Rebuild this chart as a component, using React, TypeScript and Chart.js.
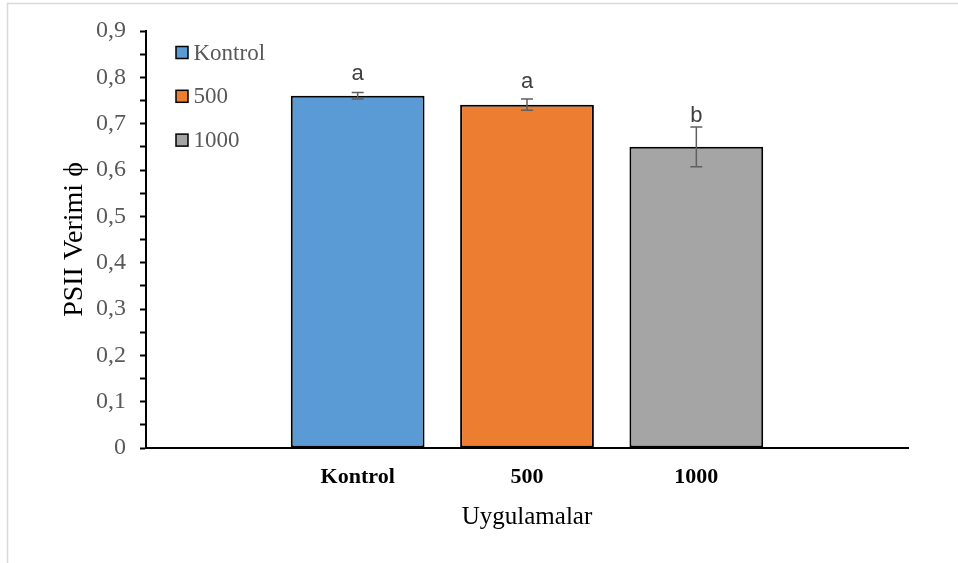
import React, { useEffect, useRef } from 'react';
import { Chart, registerables } from 'chart.js';

Chart.register(...registerables);

// ---- data ----
const categories = ['Kontrol', '500', '1000'];
const values = [0.76, 0.741, 0.65];
const errors = [0.007, 0.012, 0.043];
const letters = ['a', 'a', 'b'];
const letterLevels = [0.795, 0.776, 0.703];
const colors = ['#5B9BD5', '#ED7D31', '#A5A5A5'];
const yTickLabels = ['0', '0,1', '0,2', '0,3', '0,4', '0,5', '0,6', '0,7', '0,8', '0,9'];
const yMax = 0.9;
const yMinorStep = 0.05;
const yTitle = 'PSII Verimi \u03D5';
const xTitle = 'Uygulamalar';

const SERIF = "'Liberation Serif', 'Times New Roman', serif";
const SANS = "'Liberation Sans', Arial, sans-serif";

const framePlugin = {
  id: 'frame',
  beforeDraw(chart: any) {
    const ctx = chart.ctx;
    ctx.save();
    ctx.fillStyle = '#ffffff';
    ctx.fillRect(0, 0, chart.width, chart.height);
    ctx.strokeStyle = '#d9d9d9';
    ctx.lineWidth = 1.5;
    ctx.beginPath();
    ctx.moveTo(7.5, chart.height);
    ctx.lineTo(7.5, 3.5);
    ctx.lineTo(chart.width, 3.5);
    ctx.stroke();
    ctx.restore();
  },
};

const errorPlugin = {
  id: 'errorBarsLetters',
  afterDatasetsDraw(chart: any) {
    const ctx = chart.ctx;
    const meta = chart.getDatasetMeta(0);
    const ys = chart.scales.y;
    ctx.save();
    meta.data.forEach((el: any, i: number) => {
      const x = el.x;
      const yTop = ys.getPixelForValue(values[i] + errors[i]);
      const yBot = ys.getPixelForValue(values[i] - errors[i]);
      ctx.strokeStyle = '#5f5f5f';
      ctx.lineWidth = 1.5;
      ctx.beginPath();
      ctx.moveTo(x, yTop);
      ctx.lineTo(x, yBot);
      ctx.moveTo(x - 6, yTop);
      ctx.lineTo(x + 6, yTop);
      ctx.moveTo(x - 6, yBot);
      ctx.lineTo(x + 6, yBot);
      ctx.stroke();
      ctx.fillStyle = '#404040';
      ctx.font = `22px ${SANS}`;
      ctx.textAlign = 'center';
      ctx.textBaseline = 'alphabetic';
      ctx.fillText(letters[i], x, ys.getPixelForValue(letterLevels[i]));
    });
    ctx.restore();
  },
};

const legendPlugin = {
  id: 'insideLegend',
  afterDraw(chart: any) {
    const ctx = chart.ctx;
    const area = chart.chartArea;
    ctx.save();
    ctx.font = `23px ${SERIF}`;
    ctx.textBaseline = 'middle';
    ctx.textAlign = 'left';
    categories.forEach((c, i) => {
      const cy = area.top + 21.5 + i * 43.8;
      const sx = area.left + 30;
      ctx.fillStyle = colors[i];
      ctx.fillRect(sx, cy - 6, 12, 12);
      ctx.strokeStyle = '#000';
      ctx.lineWidth = 1.5;
      ctx.strokeRect(sx, cy - 6, 12, 12);
      ctx.fillStyle = '#595959';
      ctx.fillText(c, sx + 17.5, cy + 1);
    });
    ctx.restore();
  },
};

export default function App() {
  const ref = useRef<HTMLCanvasElement | null>(null);

  useEffect(() => {
    if (!ref.current) return;
    const chart = new Chart(ref.current, {
      type: 'bar',
      data: {
        datasets: [
          {
            data: values.map((v, i) => ({ x: i + 1, y: v })) as any,
            backgroundColor: colors,
            borderColor: '#000',
            borderWidth: 2,
            borderSkipped: false,
            barPercentage: 0.79,
            categoryPercentage: 1,
          },
        ],
      },
      options: {
        responsive: false,
        animation: false,
        layout: { padding: { left: 0, top: 31, right: 50, bottom: 0 } },
        plugins: {
          legend: { display: false },
          tooltip: { enabled: false },
        },
        scales: {
          x: {
            type: 'linear',
            offset: false,
            min: -0.25,
            max: categories.length + 1.25,
            afterBuildTicks: (scale: any) => {
              scale.ticks = categories.map((_, i) => ({ value: i + 1 }));
            },
            afterFit: (scale: any) => {
              scale.height = 115;
            },
            grid: { display: false, drawTicks: false },
            border: { display: true, color: '#000', width: 2 },
            ticks: {
              autoSkip: false,
              maxRotation: 0,
              padding: 16,
              color: '#000',
              font: { family: SERIF, size: 22, weight: 'bold' },
              callback: (v: any) => categories[Math.round(Number(v)) - 1] ?? '',
            },
            title: {
              display: true,
              text: xTitle,
              color: '#000',
              font: { family: SERIF, size: 25 },
              padding: { top: 0, bottom: 31 },
            },
          },
          y: {
            min: 0,
            max: yMax,
            afterFit: (scale: any) => {
              scale.width = 146;
            },
            grid: {
              display: true,
              drawOnChartArea: false,
              drawTicks: true,
              tickLength: 6,
              tickWidth: 2,
              tickColor: '#000',
            },
            border: { display: true, color: '#000', width: 2 },
            ticks: {
              stepSize: yMinorStep,
              autoSkip: false,
              padding: 14,
              color: '#595959',
              font: { family: SERIF, size: 24 },
              callback: (_v: any, index: number) => (index % 2 === 0 ? yTickLabels[index / 2] : ''),
            },
            title: {
              display: true,
              text: yTitle,
              color: '#000',
              font: { family: SERIF, size: 28 },
              padding: { top: 58, bottom: 0 },
            },
          },
        },
      },
      plugins: [framePlugin, errorPlugin, legendPlugin],
    } as any);
    return () => chart.destroy();
  }, []);

  return (
    <div style={{ position: 'fixed', left: 0, top: 0, width: 958, height: 563, background: '#fff' }}>
      <canvas ref={ref} width={958} height={563} style={{ display: 'block' }} />
    </div>
  );
}
